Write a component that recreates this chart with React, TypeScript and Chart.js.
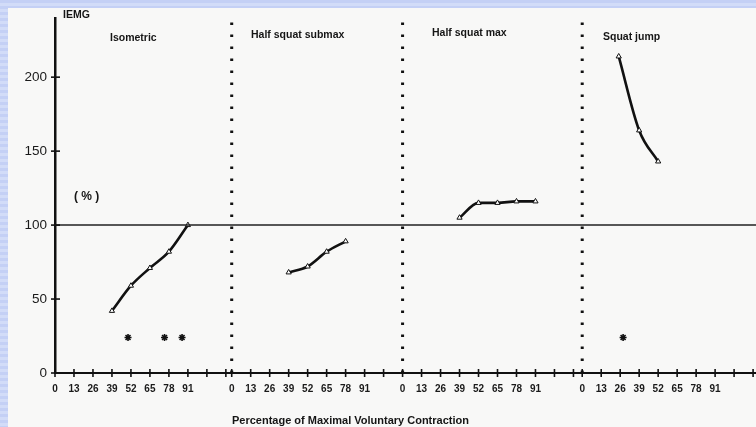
import React, { useEffect, useRef } from "react";
import { Chart, registerables } from "chart.js";

Chart.register(...registerables);

// ---- data ----
const X_MAX = 480; // x-units for the whole strip of four panels
const panelStarts = [0, 121, 238, 361]; // where each panel's "0" sits on the shared axis
const panelTitles = ["Isometric", "Half squat submax", "Half squat max", "Squat jump"];
const panelTickValues = [0, 13, 26, 39, 52, 65, 78, 91, 104, 117];
const labeledTicks = [0, 13, 26, 39, 52, 65, 78, 91];
const yTickValues = [0, 50, 100, 150, 200];

const isoX = [39, 52, 65, 78, 91];
const isoY = [42, 59, 71, 82, 100];
const isoStarX = [50, 75, 87];
const isoStarY = [24, 24, 24];

const subX = [39, 52, 65, 78];
const subY = [68, 72, 82, 89];

const maxX = [39, 52, 65, 78, 91];
const maxY = [105, 115, 115, 116, 116];

const jumpX = [25, 39, 52];
const jumpY = [214, 164, 143];
const jumpStarX = [28];
const jumpStarY = [24];

const referenceLevel = 100;
const yMax = 240;

const FONT = "'Liberation Sans', Arial, sans-serif";

function pts(panel: number, xs: number[], ys: number[]) {
  return xs.map((v, i) => ({ x: panelStarts[panel] + v, y: ys[i] }));
}

const annotationPlugin = {
  id: "annotations",
  afterDraw(chart: any) {
    const { ctx } = chart;
    const x = chart.scales.x;
    const y = chart.scales.y;
    ctx.save();
    ctx.strokeStyle = "#111";
    ctx.lineWidth = 1.6;
    x.ticks.forEach((t: any) => {
      const px = x.getPixelForValue(t.value);
      ctx.beginPath();
      ctx.moveTo(px, y.bottom - 4);
      ctx.lineTo(px, y.bottom + 4);
      ctx.stroke();
    });
    y.ticks.forEach((t: any) => {
      const py = y.getPixelForValue(t.value);
      ctx.beginPath();
      ctx.moveTo(x.left - 4, py);
      ctx.lineTo(x.left + 5, py);
      ctx.stroke();
    });

    ctx.fillStyle = "#151515";
    ctx.textBaseline = "middle";
    ctx.textAlign = "left";
    ctx.font = `bold 10.5px ${FONT}`;
    ctx.fillText("IEMG", 55, 7);

    const titlePos = [
      [102, 30],
      [243, 27],
      [424, 25],
      [595, 29],
    ];
    ctx.font = `bold 10.5px ${FONT}`;
    panelTitles.forEach((t, i) => {
      ctx.fillText(t, titlePos[i][0], titlePos[i][1]);
    });

    ctx.font = `bold 12px ${FONT}`;
    ctx.fillText("( % )", 66, 189);

    ctx.font = `bold 11px ${FONT}`;
    ctx.fillText("Percentage of Maximal Voluntary Contraction", 224, 413);
    ctx.restore();
  },
};

export default function App() {
  const canvasRef = useRef<HTMLCanvasElement | null>(null);

  useEffect(() => {
    if (!canvasRef.current) return;
    const xTicks: number[] = [];
    const xTickLabel = new Map<number, string>();
    panelStarts.forEach((start, p) => {
      const end = p + 1 < panelStarts.length ? panelStarts[p + 1] : X_MAX;
      panelTickValues.forEach((v) => {
        if (start + v >= end) return;
        xTicks.push(start + v);
        xTickLabel.set(start + v, labeledTicks.includes(v) ? String(v) : "");
      });
    });

    const lineStyle = {
      borderColor: "#111",
      borderWidth: 2.6,
      pointStyle: "triangle",
      pointRadius: 3,
      pointBackgroundColor: "#fff",
      pointBorderColor: "#111",
      pointBorderWidth: 1,
      cubicInterpolationMode: "monotone",
      showLine: true,
      fill: false,
    };
    const starStyle = {
      showLine: false,
      pointStyle: "star",
      pointRadius: 3.5,
      pointBorderColor: "#111",
      pointBorderWidth: 1.6,
      pointBackgroundColor: "#111",
    };
    const dotted = (p: number) => ({
      data: [
        { x: panelStarts[p], y: 0 },
        { x: panelStarts[p], y: yMax },
      ],
      borderColor: "#111",
      borderWidth: 3,
      borderDash: [2.5, 9.5],
      pointRadius: 0,
      showLine: true,
    });

    const chart = new Chart(canvasRef.current, {
      type: "scatter",
      data: {
        datasets: [
          {
            data: [
              { x: 0, y: referenceLevel },
              { x: X_MAX, y: referenceLevel },
            ],
            borderColor: "#222",
            borderWidth: 1.5,
            pointRadius: 0,
            showLine: true,
          },
          dotted(1),
          dotted(2),
          dotted(3),
          { data: pts(0, isoX, isoY), ...lineStyle },
          { data: pts(1, subX, subY), ...lineStyle },
          { data: pts(2, maxX, maxY), ...lineStyle },
          { data: pts(3, jumpX, jumpY), ...lineStyle },
          { data: pts(0, isoStarX, isoStarY), ...starStyle },
          { data: pts(3, jumpStarX, jumpStarY), ...starStyle },
        ] as any,
      },
      options: {
        animation: false,
        responsive: true,
        maintainAspectRatio: false,
        layout: { autoPadding: false, padding: { top: 10, left: 0, right: 0, bottom: 0 } },
        plugins: { legend: { display: false }, tooltip: { enabled: false } },
        scales: {
          x: {
            type: "linear",
            min: 0,
            max: X_MAX,
            afterBuildTicks: (s: any) => {
              s.ticks = xTicks.map((v) => ({ value: v }));
            },
            afterFit: (s: any) => {
              s.height = 54;
              s.paddingRight = 0;
              s.paddingLeft = 0;
            },
            grid: { display: false },
            border: { display: true, color: "#111", width: 2 },
            ticks: {
              autoSkip: false,
              maxRotation: 0,
              padding: 2,
              color: "#1a1a1a",
              font: { family: FONT, size: 10, weight: "bold" },
              callback: (v: any) => xTickLabel.get(Number(v)) ?? "",
            },
          },
          y: {
            min: 0,
            max: yMax,
            afterBuildTicks: (s: any) => {
              s.ticks = yTickValues.map((v) => ({ value: v }));
            },
            afterFit: (s: any) => {
              s.width = 47;
            },
            grid: { display: false },
            border: { display: true, color: "#111", width: 2.5 },
            ticks: {
              padding: 0,
              color: "#1a1a1a",
              font: { family: FONT, size: 13.5 },
            },
          },
        },
      } as any,
      plugins: [annotationPlugin],
    });
    return () => chart.destroy();
  }, []);

  return (
    <div
      style={{
        position: "fixed",
        left: 0,
        top: 0,
        width: 756,
        height: 427,
        background:
          "repeating-linear-gradient(to bottom, #c4d0f5 0px, #c4d0f5 3px, #d2dcf8 3px, #d2dcf8 6px)",
      }}
    >
      <div
        style={{
          position: "absolute",
          left: 8,
          top: 8,
          width: 748,
          height: 419,
          background: "#f8f8f7",
        }}
      >
        <canvas ref={canvasRef} />
      </div>
    </div>
  );
}
